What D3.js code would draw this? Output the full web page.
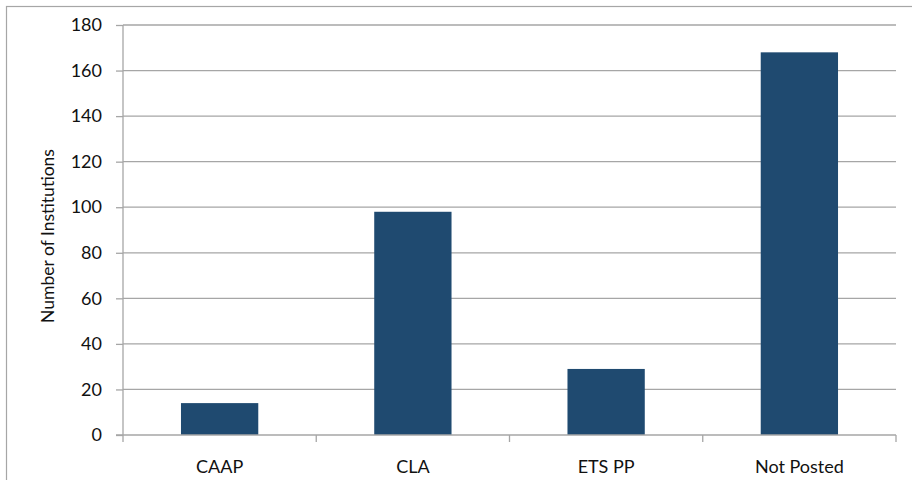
<!DOCTYPE html>
<html>
<head>
<meta charset="utf-8">
<script src="https://cdn.jsdelivr.net/npm/d3@7"></script>
<style>
  body { margin: 0; background: #fff; }
  text { font-family: "Lato", "Open Sans", sans-serif; fill: #111; }
</style>
</head>
<body>
<svg id="chart" width="912" height="480"></svg>
<script>
// data
var categories = ["CAAP", "CLA", "ETS PP", "Not Posted"];
var counts = [14, 98, 29, 168];
var yTicks = [0, 20, 40, 60, 80, 100, 120, 140, 160, 180];

var W = 912, H = 480;
// plot box (note: "top" is a reserved window property, so use plotTop)
var plotLeft = 123, plotRight = 896, plotTop = 25, plotBottom = 435;
var barColor = "#1f4a70";
var gridColor = "#a6a6a6";

var svg = d3.select("#chart");

// outer frame
svg.append("rect")
    .attr("x", 6.5).attr("y", 6.5)
    .attr("width", W).attr("height", H)
    .attr("fill", "none")
    .attr("stroke", "#a6a6a6")
    .attr("stroke-width", 1.2);

var x = d3.scaleBand().domain(categories).range([plotLeft, plotRight]).paddingInner(0.6).paddingOuter(0.3);
var xEdge = d3.scaleLinear().domain([0, categories.length]).range([plotLeft, plotRight]);
var y = d3.scaleLinear().domain([0, 180]).range([plotBottom, plotTop]);

// gridlines
svg.append("g").selectAll("line")
    .data(yTicks.filter(function(d) { return d > 0; }))
    .join("line")
    .attr("x1", plotLeft).attr("x2", plotRight)
    .attr("y1", function(d) { return y(d); })
    .attr("y2", function(d) { return y(d); })
    .attr("stroke", gridColor).attr("stroke-width", 1.3);

// bars
svg.append("g").selectAll("rect")
    .data(counts)
    .join("rect")
    .attr("x", function(d, i) { return x(categories[i]); })
    .attr("width", x.bandwidth())
    .attr("y", function(d) { return y(d); })
    .attr("height", function(d) { return y(0) - y(d); })
    .attr("fill", barColor);

// y axis
var yAxis = svg.append("g")
    .attr("transform", "translate(" + plotLeft + ",0)")
    .call(d3.axisLeft(y).tickValues(yTicks).tickSize(7).tickPadding(14));
yAxis.selectAll("line, path").attr("stroke", gridColor).attr("stroke-width", 1.3);
yAxis.select(".domain").attr("d", "M0," + plotTop + "V" + plotBottom);
yAxis.selectAll("text").style("font-size", "18px").attr("fill", "#111");

// x axis: line at zero with ticks on category edges
var xAxis = svg.append("g");
xAxis.append("line")
    .attr("x1", plotLeft - 7).attr("x2", plotRight)
    .attr("y1", plotBottom).attr("y2", plotBottom)
    .attr("stroke", gridColor).attr("stroke-width", 1.3);
xAxis.selectAll(".edge")
    .data(d3.range(categories.length + 1))
    .join("line")
    .attr("class", "edge")
    .attr("x1", function(d) { return xEdge(d); })
    .attr("x2", function(d) { return xEdge(d); })
    .attr("y1", plotBottom).attr("y2", plotBottom + 7)
    .attr("stroke", gridColor).attr("stroke-width", 1.3);
xAxis.selectAll("text")
    .data(categories)
    .join("text")
    .attr("x", function(d) { return x(d) + x.bandwidth() / 2; })
    .attr("y", 473)
    .attr("text-anchor", "middle")
    .style("font-size", "18px")
    .text(function(d) { return d; });

// y axis title
svg.append("text")
    .attr("transform", "translate(54,236) rotate(-90)")
    .attr("text-anchor", "middle")
    .style("font-size", "17.5px")
    .text("Number of Institutions");
</script>
</body>
</html>
